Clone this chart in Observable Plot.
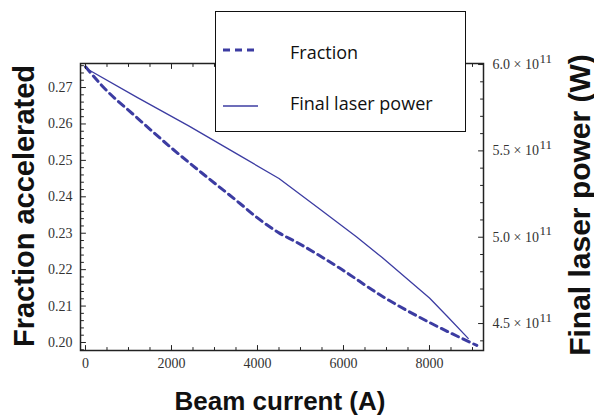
<!DOCTYPE html>
<html><head><meta charset="utf-8">
<script src="https://cdn.jsdelivr.net/npm/d3@7"></script>
<script src="https://cdn.jsdelivr.net/npm/@observablehq/plot@0.6"></script>
<style>
body{margin:0;background:#fff;}
#wrap{position:relative;width:594px;height:415px;overflow:hidden;background:#fff;}
#legend{position:absolute;left:215px;top:11px;width:249px;height:119px;border:1.6px solid #111;background:#fff;}
</style></head><body><div id="wrap"></div>
<script>
// ---- data ----
const beamFrac = [0, 400, 1200, 2000, 2700, 3600, 4000, 4500, 4900, 5900, 6900, 8000, 9100];
const fraction = [0.2757, 0.2703, 0.2617, 0.2534, 0.2466, 0.2381, 0.2342, 0.2301, 0.2276, 0.2205, 0.2127, 0.2055, 0.1992];
const beamPower = [0, 1200, 2400, 3600, 4500, 5400, 6300, 6900, 8000, 8400, 8900];
const powerE11 = [5.98, 5.81, 5.645, 5.471, 5.34, 5.172, 5.003, 4.882, 4.648, 4.545, 4.414];

const xMajor = [0, 2000, 4000, 6000, 8000];
const xMinor = [500, 1000, 1500, 2500, 3000, 3500, 4500, 5000, 5500, 6500, 7000, 7500, 8500, 9000];
const fracMajor = [0.20, 0.21, 0.22, 0.23, 0.24, 0.25, 0.26, 0.27];
const fracMinor = [0.198, 0.202, 0.204, 0.206, 0.208, 0.212, 0.214, 0.216, 0.218, 0.222, 0.224, 0.226, 0.228,
  0.232, 0.234, 0.236, 0.238, 0.242, 0.244, 0.246, 0.248, 0.252, 0.254, 0.256, 0.258, 0.262, 0.264, 0.266, 0.268, 0.272, 0.274, 0.276];
const powerMajor = [4.5, 5.0, 5.5, 6.0];
const powerMinor = [4.4, 4.6, 4.7, 4.8, 4.9, 5.1, 5.2, 5.3, 5.4, 5.6, 5.7, 5.8, 5.9];
const powerLabels = ["4.5", "5.0", "5.5", "6.0"];

const xDomain = [-116, 9256];
const fracDomain = [0.1978, 0.2766];
const powerDomain = [4.344, 6.006];

const labelX = "Beam current (A)";
const labelLeft = "Fraction accelerated";
const labelRight = "Final laser power (W)";
const legendNames = ["Fraction", "Final laser power"];

// ---- derived ----
const toFrac = d3.scaleLinear().domain(powerDomain).range(fracDomain);
const fracData = beamFrac.map((x, i) => ({x, y: fraction[i]}));
const powerData = beamPower.map((x, i) => ({x, y: toFrac(powerE11[i])}));
const color = "#3c3ca2";
const tickShape = {draw(context, l) { context.moveTo(0, 0); context.lineTo(0, -l); }};
const tk = (data, opts) => Plot.vector(data, {anchor: "start", shape: tickShape, stroke: "#222", strokeWidth: 1, ...opts});
const titleFont = {fontFamily: "'Liberation Sans', Arial, sans-serif", fontWeight: "bold", fill: "#111", textAnchor: "middle", lineAnchor: "bottom"};

const chart = Plot.plot({
  width: 594, height: 415,
  marginLeft: 80, marginRight: 111, marginTop: 63, marginBottom: 65,
  style: {fontFamily: "'Liberation Serif', serif", fontSize: "14px", color: "#333", background: "#fff"},
  x: {domain: xDomain},
  y: {domain: fracDomain},
  marks: [
    Plot.line(fracData, {x: "x", y: "y", stroke: color, strokeWidth: 3, strokeDasharray: "7,5", curve: "monotone-x"}),
    Plot.line(powerData, {x: "x", y: "y", stroke: color, strokeWidth: 1.3}),
    Plot.frame({stroke: "#222", strokeWidth: 1.5}),
    // ticks (inward)
    tk(xMajor, {x: d => d, frameAnchor: "bottom", rotate: 0, length: 5}),
    tk(xMinor, {x: d => d, frameAnchor: "bottom", rotate: 0, length: 3}),
    tk(xMajor, {x: d => d, frameAnchor: "top", rotate: 180, length: 5}),
    tk(xMinor, {x: d => d, frameAnchor: "top", rotate: 180, length: 3}),
    tk(fracMajor, {y: d => d, frameAnchor: "left", rotate: 90, length: 5}),
    tk(fracMinor, {y: d => d, frameAnchor: "left", rotate: 90, length: 3}),
    tk(powerMajor, {y: d => toFrac(d), frameAnchor: "right", rotate: 270, length: 5}),
    tk(powerMinor, {y: d => toFrac(d), frameAnchor: "right", rotate: 270, length: 3}),
    // tick labels
    Plot.axisX({ticks: xMajor, tickSize: 0, tickPadding: 8, tickFormat: d => String(d), label: null, fill: "#333"}),
    Plot.axisY({ticks: fracMajor, tickSize: 0, tickPadding: 8, tickFormat: d3.format(".2f"), label: null, fill: "#333"}),
    Plot.text(powerMajor, {y: d => toFrac(d), text: (d, i) => powerLabels[i] + " \u00d7 10", frameAnchor: "right", dx: 9, textAnchor: "start", fill: "#333"}),
    Plot.text(powerMajor, {y: d => toFrac(d), text: () => "11", frameAnchor: "right", dx: 56, dy: -6, textAnchor: "start", fontSize: 13, fill: "#333"}),
    // axis titles
    Plot.text([labelLeft], {...titleFont, frameAnchor: "left", dx: -47, dy: -1, rotate: -90, fontSize: 29}),
    Plot.text([labelRight], {...titleFont, frameAnchor: "right", dx: 106, dy: -2, rotate: -90, fontSize: 30}),
    Plot.text([labelX], {...titleFont, frameAnchor: "bottom", dx: -2, dy: 59, fontSize: 26})
  ]
});

const wrap = document.getElementById("wrap");
wrap.appendChild(chart);

// legend box overlaid on the chart
const legend = document.createElement("div");
legend.id = "legend";
const ns = "http://www.w3.org/2000/svg";
const lsvg = document.createElementNS(ns, "svg");
lsvg.setAttribute("width", 249); lsvg.setAttribute("height", 119);
const items = [
  {name: legendNames[0], y: 38, tb: 47, width: 3, dash: "7,5"},
  {name: legendNames[1], y: 94, tb: 98, width: 1.3, dash: null}
];
for (const it of items) {
  const ln = document.createElementNS(ns, "line");
  ln.setAttribute("x1", 7); ln.setAttribute("x2", 42);
  ln.setAttribute("y1", it.y); ln.setAttribute("y2", it.y);
  ln.setAttribute("stroke", color); ln.setAttribute("stroke-width", it.width);
  if (it.dash) ln.setAttribute("stroke-dasharray", it.dash);
  lsvg.appendChild(ln);
  const t = document.createElementNS(ns, "text");
  t.setAttribute("x", 74); t.setAttribute("y", it.tb);
  t.setAttribute("font-family", "'Open Sans', sans-serif");
  t.setAttribute("font-size", 18);
  t.setAttribute("fill", "#111");
  t.textContent = it.name;
  lsvg.appendChild(t);
}
legend.appendChild(lsvg);
wrap.appendChild(legend);
</script>
</body></html>
